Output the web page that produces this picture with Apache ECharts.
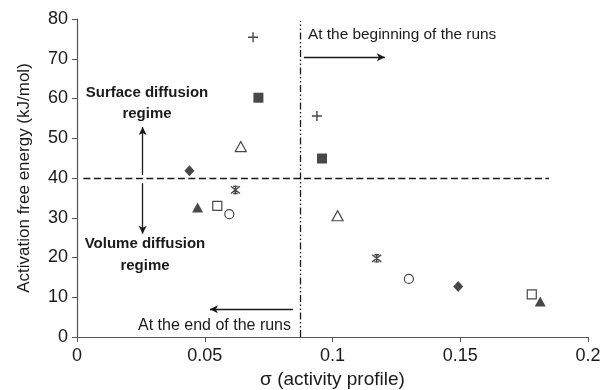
<!DOCTYPE html>
<html><head><meta charset="utf-8">
<script src="https://cdn.jsdelivr.net/npm/echarts@6/dist/echarts.min.js"></script>
<style>html,body{margin:0;padding:0;background:#fff}#c{width:604px;height:390px}</style>
</head><body><div id="c"></div>
<script>
// Data: [sigma, activation free energy] for each sample (beginning, end of runs)
const plusPts     = [[0.0689, 75.4], [0.0939, 55.6]];
const fSquarePts  = [[0.0710, 60.2], [0.0959, 44.9]];
const oTrianglePts= [[0.0641, 47.9], [0.1020, 30.5]];
const diamondPts  = [[0.0440, 41.8], [0.1492, 12.7]];
const asteriskPts = [[0.0620, 37.0], [0.1173, 19.8]];
const fTrianglePts= [[0.0472, 32.6], [0.1813, 8.9]];
const oSquarePts  = [[0.0549, 33.0], [0.1780, 10.7]];
const circlePts   = [[0.0596, 30.9], [0.1299, 14.6]];
const xTicks = [0, 0.05, 0.1, 0.15, 0.2];
const yTicks = [0, 10, 20, 30, 40, 50, 60, 70, 80];
const regimeLimit = 40;      // horizontal dashed line
const runSplit = 0.0875;     // vertical dash-dot line

const ink = '#1a1a1a';
const FF = 'Liberation Sans';
const chart = echarts.init(document.getElementById('c'));
const filled = {color: ink};
const open = {color: '#fff', borderColor: ink, borderWidth: 1.2};
const stroke = {color: 'none', borderColor: ink, borderWidth: 1.4};

function sc(data, symbol, size, style) {
  return {type: 'scatter', data, symbol, symbolSize: size, itemStyle: style, z: 5};
}
const plainLine = (a, b, type, width) => [
  {coord: a, symbol: 'none', lineStyle: {type, width, color: ink}},
  {coord: b, symbol: 'none'}
];
const arrowLine = (a, b) => [
  {coord: a, symbol: 'none', lineStyle: {type: 'solid', width: 1.3, color: ink}},
  {coord: b, symbol: 'arrow', symbolSize: [6, 8]}
];

chart.setOption({
  animation: false,
  grid: {left: 77, right: 16, top: 19, bottom: 53, outerBoundsMode: 'none', containLabel: false},
  xAxis: {
    type: 'value', min: 0, max: 0.2, interval: 0.05,
    name: 'σ (activity profile)', nameLocation: 'middle', nameGap: 33,
    nameTextStyle: {fontFamily: FF, fontSize: 19, color: ink},
    axisLine: {lineStyle: {color: '#555', width: 1.2}},
    axisTick: {show: true, length: 5, lineStyle: {color: '#555'}},
    axisLabel: {fontFamily: FF, fontSize: 18, color: ink, margin: 10,
      formatter: v => xTicks.includes(+v.toFixed(2)) ? String(+v.toFixed(2)) : ''},
    splitLine: {show: false}
  },
  yAxis: {
    type: 'value', min: 0, max: 80, interval: 10,
    name: 'Activation free energy (kJ/mol)', nameLocation: 'middle', nameGap: 44,
    nameTextStyle: {fontFamily: FF, fontSize: 17, color: ink},
    axisLine: {show: true, lineStyle: {color: '#555', width: 1.2}},
    axisTick: {show: true, length: 5, lineStyle: {color: '#555'}},
    axisLabel: {fontFamily: FF, fontSize: 18, color: ink, margin: 9,
      formatter: v => yTicks.includes(v) ? String(v) : ''},
    splitLine: {show: false}
  },
  series: [
    sc(plusPts, 'path://M5,0V10M0,5H10', 10, stroke),
    sc(fSquarePts, 'rect', 10, filled),
    sc(oTrianglePts, 'triangle', [11, 10], open),
    sc(diamondPts, 'diamond', [10, 11], filled),
    sc(asteriskPts, 'path://M5,0V10M1,1L9,9M1,9L9,1M3,1H7M3,9H7', 9, stroke),
    sc(fTrianglePts, 'triangle', [11, 10], filled),
    sc(oSquarePts, 'rect', 9, open),
    sc(circlePts, 'circle', 9, open),
    {
      type: 'scatter', data: [], silent: true,
      markLine: {
        silent: true, symbol: 'none', label: {show: false},
        data: [
          plainLine([0.0025, regimeLimit], [0.1847, regimeLimit], [7, 3.5], 1.4),
          plainLine([runSplit, 0], [runSplit, 79.5], [7, 2.5, 1.5, 2.5, 1.5, 2.5], 1.3),
          arrowLine([0.0888, 70.4], [0.1205, 70.4]),
          arrowLine([0.0257, 40.8], [0.0257, 52.8]),
          arrowLine([0.0257, 38.7], [0.0257, 26.0]),
          arrowLine([0.0845, 7.0], [0.0520, 7.0])
        ]
      }
    }
  ],
  graphic: [
    {type: 'text', x: 308, y: 35, style: {text: 'At the beginning of the runs', fontFamily: FF, fontSize: 15.4, fill: ink, textVerticalAlign: 'middle'}},
    {type: 'text', x: 147, y: 93, style: {text: 'Surface diffusion', fontFamily: FF, fontWeight: 'bold', fontSize: 15, fill: ink, textAlign: 'center', textVerticalAlign: 'middle'}},
    {type: 'text', x: 147, y: 114, style: {text: 'regime', fontFamily: FF, fontWeight: 'bold', fontSize: 15, fill: ink, textAlign: 'center', textVerticalAlign: 'middle'}},
    {type: 'text', x: 145, y: 244, style: {text: 'Volume diffusion', fontFamily: FF, fontWeight: 'bold', fontSize: 15, fill: ink, textAlign: 'center', textVerticalAlign: 'middle'}},
    {type: 'text', x: 145, y: 266, style: {text: 'regime', fontFamily: FF, fontWeight: 'bold', fontSize: 15, fill: ink, textAlign: 'center', textVerticalAlign: 'middle'}},
    {type: 'text', x: 291, y: 326, style: {text: 'At the end of the runs', fontFamily: FF, fontSize: 16, fill: ink, textAlign: 'right', textVerticalAlign: 'middle'}}
  ]
});
</script></body></html>
